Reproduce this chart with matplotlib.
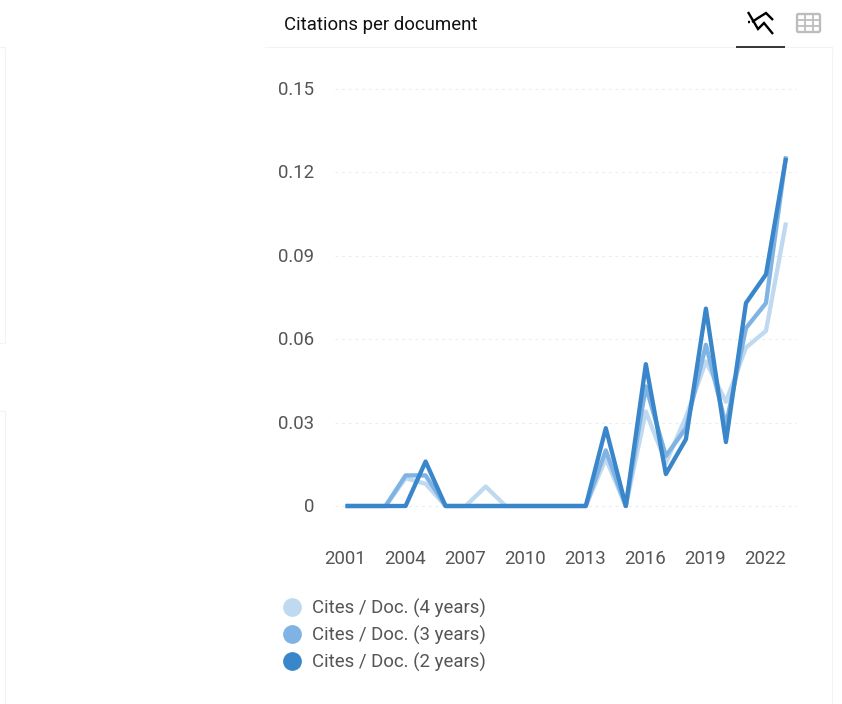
import matplotlib
matplotlib.use("Agg")
import matplotlib.pyplot as plt
from matplotlib.lines import Line2D
from matplotlib.patches import FancyBboxPatch
from matplotlib.transforms import ScaledTranslation

plt.rcParams["font.family"] = ["Roboto", "DejaVu Sans"]

W, H = 842, 704

years = list(range(2001, 2024))
cites_4y = [0, 0, 0, 0.010, 0.008, 0, 0, 0.007, 0, 0, 0, 0, 0, 0.017, 0, 0.034,
            0.0155, 0.032, 0.052, 0.0375, 0.057, 0.063, 0.102]
cites_3y = [0, 0, 0, 0.011, 0.011, 0, 0, 0, 0, 0, 0, 0, 0, 0.020, 0, 0.043,
            0.018, 0.028, 0.058, 0.029, 0.064, 0.073, 0.1258]
cites_2y = [0, 0, 0, 0, 0.016, 0, 0, 0, 0, 0, 0, 0, 0, 0.028, 0, 0.051,
            0.0115, 0.024, 0.071, 0.023, 0.073, 0.0833, 0.1252]

series_labels = ["Cites / Doc. (4 years)", "Cites / Doc. (3 years)", "Cites / Doc. (2 years)"]
series_colors = ["#bfd9f0", "#7fb3e3", "#3a86ca"]
y_ticks = [0, 0.03, 0.06, 0.09, 0.12, 0.15]
y_tick_labels = ["0", "0.03", "0.06", "0.09", "0.12", "0.15"]
x_ticks = list(range(2001, 2023, 3))

TEXT = "#555555"
FONT_SIZE = 13.45

fig = plt.figure(figsize=(W / 100, H / 100), dpi=100, facecolor="white")

# page furniture lives on a full-figure axes measured in pixels
page = fig.add_axes([0, 0, 1, 1], zorder=0)
page.set_xlim(0, W)
page.set_ylim(H, 0)
page.axis("off")
edge = "#f3f3f3"
for xs, ys in [([5, 5], [47, 343]), ([5, 5], [411, 704]), ([0, 5], [47, 47]),
               ([0, 5], [343, 343]), ([0, 5], [411, 411]),
               ([265, 832], [47, 47]), ([832, 832], [47, 704])]:
    page.plot(xs, ys, color=edge, lw=0.8)
page.plot([736, 785], [47, 47], color="black", lw=1.1, solid_capstyle="butt")
page.text(284, 24.5, "Citations per document", fontsize=13.4, color="#111111",
          va="center", ha="left")

# chart-view icon
icon = dict(color="black", lw=1.7, solid_joinstyle="miter", solid_capstyle="butt")
page.plot([748, 758, 764, 773], [12, 29, 23, 34], **icon)
page.plot([752, 758, 766, 773], [22, 18, 13, 20], **icon)
page.plot([747.5, 750], [22, 22], **icon)

# table-view icon
grey = "#bdbdbd"
page.add_patch(FancyBboxPatch((797, 14), 23, 18, boxstyle="round,pad=0,rounding_size=1.5",
                              fc="none", ec=grey, lw=1.7))
for gx in (805, 812.5):
    page.plot([gx, gx], [14, 32], color=grey, lw=1.3)
for gy in (20, 26):
    page.plot([797, 820], [gy, gy], color=grey, lw=1.3)

# plot area spans the gridlines: x 335-797 px, y 89-506 px
px_per_year = (786 - 345.5) / 22
px_per_unit = (506 - 89) / 0.15
ax = fig.add_axes([335 / W, (H - 530) / H, (797 - 335) / W, (530 - 70) / H],
                  zorder=1, facecolor="none")
ax.set_xlim(2001 + (335 - 345.5) / px_per_year, 2001 + (797 - 345.5) / px_per_year)
ax.set_ylim((506 - 530) / px_per_unit, (506 - 70) / px_per_unit)

for spine in ax.spines.values():
    spine.set_visible(False)
ax.grid(axis="y", color="#ececec", lw=0.8, ls=(0, (2.5, 3.5)))
ax.set_axisbelow(True)
ax.set_yticks(y_ticks, y_tick_labels)
ax.set_xticks(x_ticks, [str(y) for y in x_ticks])
ax.tick_params(axis="both", length=0, labelsize=FONT_SIZE, labelcolor=TEXT)
ax.tick_params(axis="y", pad=14.9)
ax.tick_params(axis="x", pad=14.6)

# nudge tick labels by a pixel to sit on the text baseline
nudge_up = ScaledTranslation(0, 1 / 100, fig.dpi_scale_trans)
nudge_left = ScaledTranslation(-1 / 100, 0, fig.dpi_scale_trans)
for label in ax.get_yticklabels():
    label.set_transform(label.get_transform() + nudge_up)
for label in ax.get_xticklabels():
    label.set_transform(label.get_transform() + nudge_left)

handles = []
for values, color, label in zip((cites_4y, cites_3y, cites_2y), series_colors, series_labels):
    ax.plot(years, values, color=color, lw=3.1, solid_joinstyle="round",
            solid_capstyle="butt", clip_on=False)
    handles.append(Line2D([], [], ls="none", marker="o", ms=13.5, mfc=color, mec=color,
                          mew=0, label=label))

fig.legend(handles=handles, loc="upper left", bbox_to_anchor=(277 / W, 1 - 599 / H),
           frameon=False, fontsize=FONT_SIZE, labelcolor=TEXT, handletextpad=0.3,
           labelspacing=0.42, borderpad=0, borderaxespad=0, handlelength=1.6)

fig.savefig("out.png", dpi=100)
